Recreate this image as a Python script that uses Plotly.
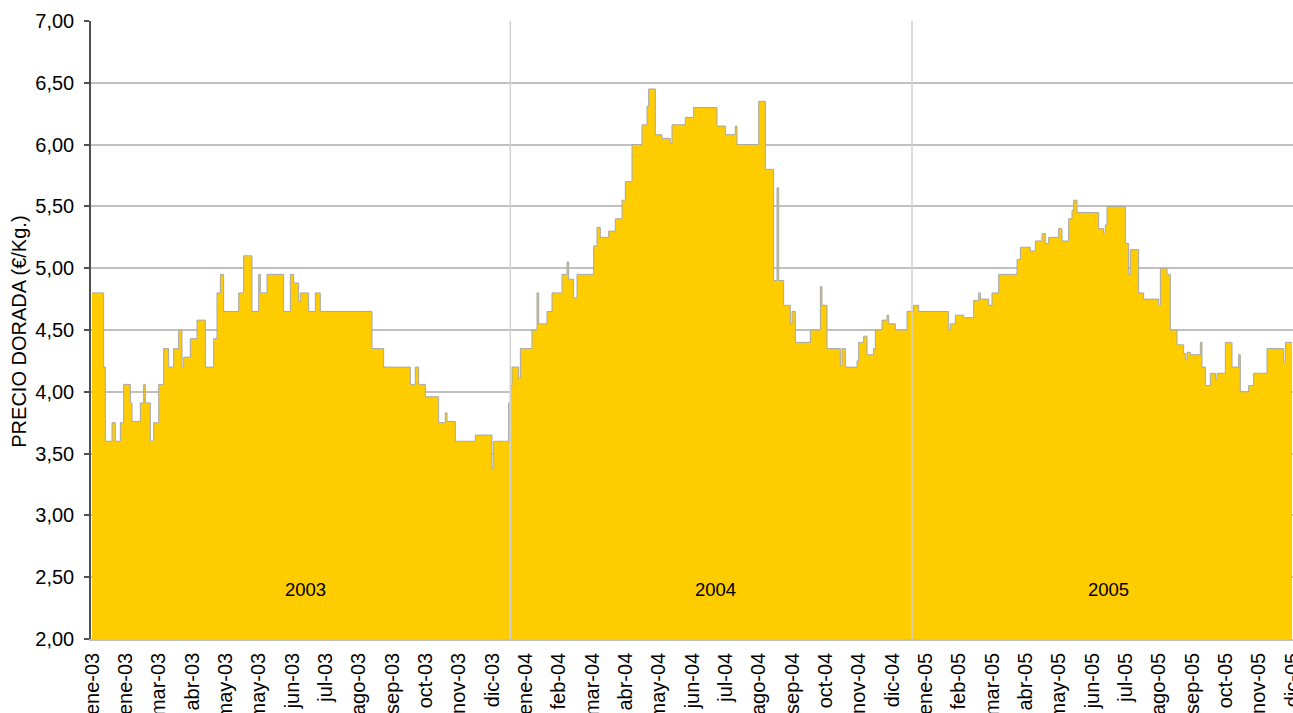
import plotly.graph_objects as go

# observation index (change points of the price series) and price (EUR/kg)
obs = [0, 7, 8, 12, 14, 17, 19, 23, 24, 29,
       31, 32, 35, 37, 40, 43, 46, 49, 52, 54,
       55, 59, 63, 68, 73, 75, 77, 79, 88, 91,
       96, 100, 101, 105, 115, 119, 121, 124, 125, 130,
       134, 137, 168, 175, 191, 194, 196, 200, 208, 212,
       213, 218, 230, 240, 241, 250, 251, 252, 256, 257,
       264, 267, 268, 273, 276, 282, 285, 286, 289, 291,
       301, 303, 305, 310, 314, 318, 320, 324, 330, 333,
       334, 338, 342, 347, 348, 356, 361, 375, 380, 386,
       387, 400, 404, 409, 411, 412, 415, 419, 420, 422,
       431, 437, 438, 441, 449, 450, 452, 459, 460, 463,
       465, 469, 470, 474, 477, 478, 482, 489, 493, 496,
       514, 515, 518, 523, 529, 532, 533, 538, 540, 544,
       555, 557, 563, 566, 570, 572, 574, 580, 582, 586,
       588, 589, 591, 604, 607, 608, 609, 620, 622, 623,
       628, 631, 640, 641, 645, 647, 651, 655, 656, 657,
       659, 665, 666, 668, 671, 674, 675, 680, 684, 688,
       689, 694, 697, 705, 715, 716, 720]

price = [4.80, 4.20, 3.60, 3.75, 3.60, 3.75, 4.06, 3.91, 3.76, 3.91,
         4.06, 3.91, 3.60, 3.75, 4.06, 4.35, 4.20, 4.35, 4.50, 4.20,
         4.28, 4.43, 4.58, 4.20, 4.43, 4.80, 4.95, 4.65, 4.80, 5.10,
         4.65, 4.95, 4.80, 4.95, 4.65, 4.95, 4.88, 4.73, 4.80, 4.65,
         4.80, 4.65, 4.35, 4.20, 4.06, 4.20, 4.06, 3.96, 3.75, 3.83,
         3.76, 3.60, 3.65, 3.38, 3.60, 3.91, 4.05, 4.20, 4.11, 4.35,
         4.50, 4.80, 4.55, 4.65, 4.80, 4.95, 5.05, 4.91, 4.76, 4.95,
         5.18, 5.33, 5.25, 5.30, 5.40, 5.55, 5.70, 6.00, 6.16, 6.31,
         6.45, 6.08, 6.05, 6.01, 6.16, 6.22, 6.30, 6.15, 6.08, 6.15,
         6.00, 6.35, 5.80, 4.90, 5.65, 4.90, 4.70, 4.55, 4.65, 4.40,
         4.50, 4.85, 4.70, 4.35, 4.21, 4.35, 4.20, 4.25, 4.40, 4.45,
         4.30, 4.35, 4.50, 4.58, 4.62, 4.55, 4.50, 4.65, 4.70, 4.65,
         4.50, 4.55, 4.62, 4.60, 4.74, 4.80, 4.75, 4.70, 4.80, 4.95,
         5.07, 5.17, 5.14, 5.22, 5.28, 5.20, 5.25, 5.32, 5.22, 5.40,
         5.47, 5.55, 5.45, 5.32, 5.28, 5.35, 5.50, 5.20, 4.95, 5.15,
         4.80, 4.75, 4.70, 5.00, 4.95, 4.50, 4.38, 4.31, 4.26, 4.32,
         4.30, 4.40, 4.20, 4.05, 4.15, 4.10, 4.15, 4.40, 4.20, 4.30,
         4.00, 4.05, 4.15, 4.35, 4.24, 4.40, 4.40]

tick_obs = [0, 20, 40, 60, 80, 100, 120, 140, 160, 180, 200, 220, 240,
            260, 280, 300, 320, 340, 360, 380, 400, 420, 440, 460, 480,
            500, 520, 540, 560, 580, 600, 620, 640, 660, 680, 700, 720]
tick_labels = ["ene-03", "ene-03", "mar-03", "abr-03", "may-03", "may-03", "jun-03",
               "jul-03", "ago-03", "sep-03", "oct-03", "nov-03", "dic-03",
               "ene-04", "feb-04", "mar-04", "abr-04", "may-04", "jun-04", "jul-04",
               "ago-04", "sep-04", "oct-04", "nov-04", "dic-04",
               "ene-05", "feb-05", "mar-05", "abr-05", "may-05", "jun-05", "jul-05",
               "ago-05", "sep-05", "oct-05", "nov-05", "dic-05"]

year_labels = ["2003", "2004", "2005"]
year_label_obs = [128, 374, 610]
year_label_y = 2.40
year_start_obs = [251, 492]

FONT = "Liberation Sans, Arial, sans-serif"

fig = go.Figure()
fig.add_trace(go.Scatter(
    x=obs, y=price, mode="lines",
    line=dict(shape="hv", color="#a8a8a8", width=1),
    fill="tozeroy", fillcolor="#FFCC00",
    hoverinfo="skip", showlegend=False,
))

for xv in year_start_obs:
    fig.add_shape(type="line", xref="x", yref="paper", x0=xv, x1=xv, y0=0, y1=1,
                  line=dict(color="#d2d2d2", width=1.5), layer="above")

for lbl, xv in zip(year_labels, year_label_obs):
    fig.add_annotation(x=xv, y=year_label_y, xref="x", yref="y", text=lbl,
                       showarrow=False, font=dict(family=FONT, size=18.5, color="#000000"))

fig.add_annotation(x=-0.06, y=0.497, xref="paper", yref="paper",
                   text="PRECIO DORADA (€/Kg.)", textangle=-90, showarrow=False,
                   xanchor="center", yanchor="middle",
                   font=dict(family=FONT, size=20, color="#000000"))

fig.update_layout(
    width=1293, height=713,
    margin=dict(l=91, r=0, t=21, b=74, autoexpand=False),
    paper_bgcolor="white", plot_bgcolor="white",
    separators=",.",
    font=dict(family=FONT, size=20, color="#000000"),
    xaxis=dict(range=[-0.6, 720.6], tickmode="array", tickvals=tick_obs,
               ticktext=tick_labels, tickangle=-90, showgrid=False, zeroline=False,
               showline=True, linecolor="#c0c0c0", linewidth=1.5, ticks="",
               ticklabeloverflow="allow", ticklabelstandoff=4,
               tickfont=dict(family=FONT, size=20, color="#000000"), automargin=False),
    yaxis=dict(range=[2, 7], dtick=0.5, tick0=2, tickformat=".2f", showgrid=True,
               gridcolor="#c0c0c0", gridwidth=1.5, zeroline=False, showline=True,
               linecolor="#505050", linewidth=1.5, ticks="outside", ticklen=5,
               tickcolor="#505050", tickwidth=1.5, ticklabelstandoff=6,
               tickfont=dict(family=FONT, size=20, color="#000000"), automargin=False),
)

fig.write_html("out.html", config={"displayModeBar": False},
               post_script="document.body.style.margin='0';")
